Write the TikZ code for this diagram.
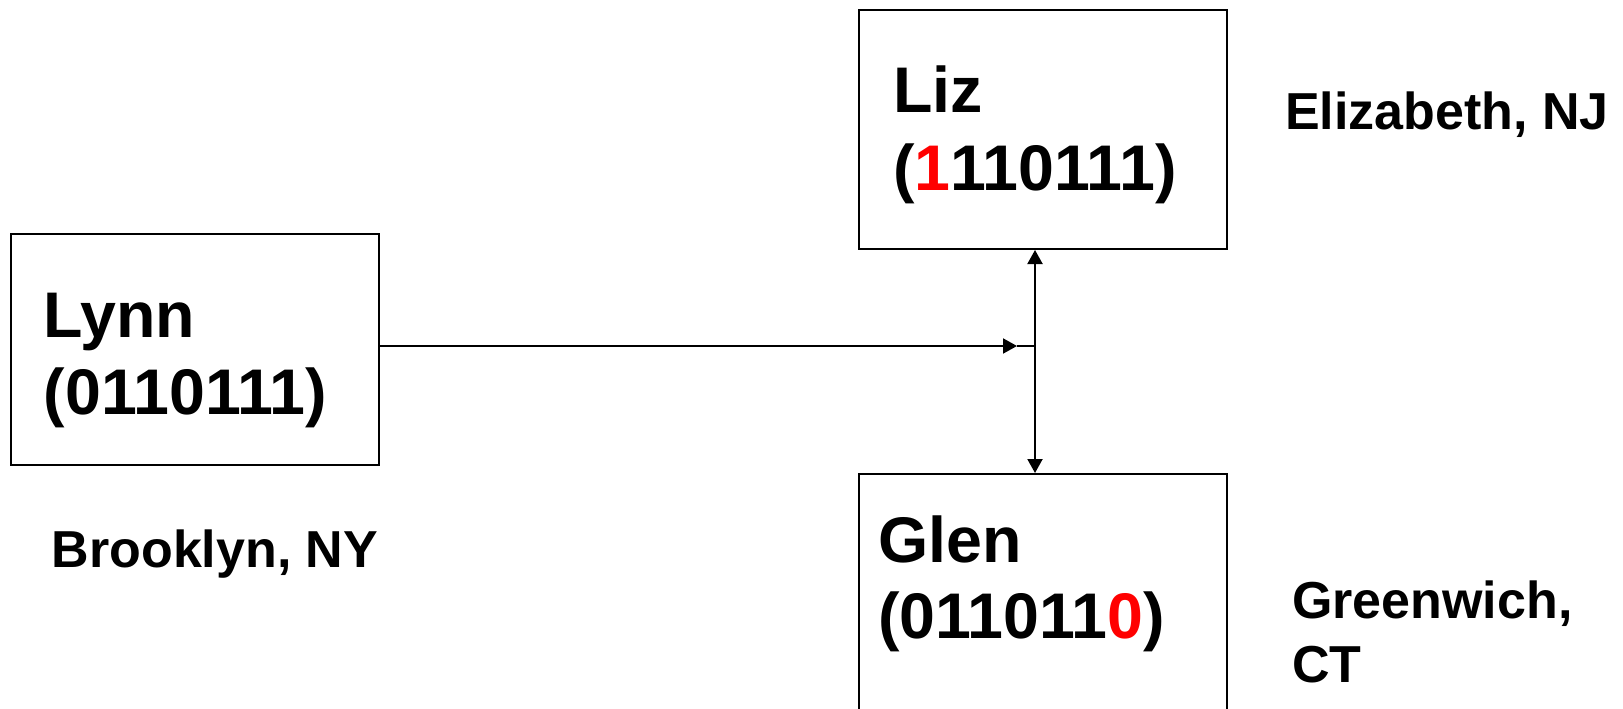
\documentclass[tikz,border=0pt]{standalone}
\usepackage{fontspec}
\setmainfont{Liberation Sans}
\usetikzlibrary{arrows.meta}
\begin{document}
\begin{tikzpicture}[x=1pt,y=-1pt,
  box/.style={draw,line width=2pt,rectangle,minimum width=368pt,inner sep=0pt},
  big/.style={anchor=base west,inner sep=0pt,font=\fontsize{64.5}{77}\selectfont\bfseries},
  small/.style={anchor=base west,inner sep=0pt,font=\fontsize{52}{64}\selectfont\bfseries},
  conn/.style={line width=2pt},
  tipend/.style={-{Triangle[length=14pt,width=15pt]}},
  tipboth/.style={{Triangle[length=14pt,width=15pt]}-{Triangle[length=14pt,width=15pt]}}]
\clip (0,0) rectangle (1623,709);
\fill[white] (0,0) rectangle (1623,709);
% boxes
\node[box,minimum height=231pt] (lynn) at (195,349.5) {};
\node[box,minimum height=239pt] (liz) at (1043,129.5) {};
\node[box,minimum height=246pt] (glen) at (1043,597) {};
% box texts
\node[big] (lynnname) at (43.5,337) {Lynn};
\node[big] (lynncode) at (43.5,414) {(0110111)};
\node[big] (lizname) at (893,113) {Liz};
\node[big] (lizcode) at (893,190) {(\textcolor{red}{1}110111)};
\node[big] (glenname) at (878,562) {Glen};
\node[big] (glencode) at (878,638) {(011011\textcolor{red}{0})};
% place labels
\node[small] (eliz) at (1285,129) {Elizabeth, NJ};
\node[small] (brook) at (51.5,567) {Brooklyn, NY};
\node[small] (green1) at (1292,618) {Greenwich,};
\node[small] (green2) at (1292,682) {CT};
% connectors
\coordinate (junction) at (1035,346);
\coordinate (tiph) at (1017,346);
\draw[conn,tipend] (lynn.east |- junction) -- (tiph);
\draw[conn] (tiph) -- (junction);
\draw[conn,tipboth] (liz.south -| junction) -- (glen.north -| junction);
\end{tikzpicture}
\end{document}
